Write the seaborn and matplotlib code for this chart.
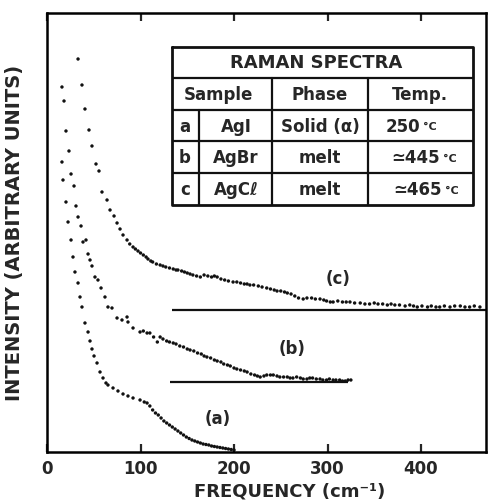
"""
Raman spectra of AgI / AgBr / AgCl - recreation of the scanned figure
"""

import pandas as pd
import matplotlib.pyplot as plt
import seaborn as sns

sns.set_style('ticks')
plt.rcParams.update({
    'font.family': ['DejaVu Sans'],
    'font.weight': 'bold',
    'axes.linewidth': 1.8,
    'axes.edgecolor': 'black',
})
INK = '#111111'

# --- data (frequency cm-1, intensity arb. units) ---
freq_a = [16.0, 17.1, 20.3, 22.5, 25.7, 27.8, 29.9, 33.2, 35.3, 37.4, 40.6, 43.9,
          46.0, 48.1, 50.3, 53.5, 56.7, 59.9, 63.1, 65.2, 70.6, 75.9, 81.3, 86.6,
          92.0, 99.5, 104, 107, 110, 113, 116, 119, 122, 125, 128, 131, 134, 137,
          140, 143, 146, 149, 152, 155, 158, 161, 164, 167, 170, 173, 176, 179,
          182, 185, 188, 191, 194, 197, 200]
int_a = [290, 272, 250, 230, 212, 195, 180, 169, 155, 145, 129, 120,
         111, 103, 96, 89, 80, 74, 69, 67, 64, 61, 58, 56,
         54, 52, 50, 49, 46, 42, 39, 37, 34, 31, 29, 27, 25, 23,
         21, 19, 17, 15, 13.5, 12, 11, 10, 9, 8, 7.5, 7, 6, 5.5,
         5, 4.5, 4, 3.5, 3, 2.5, 2]

freq_b = [16.0, 18.2, 20.3, 23.5, 25.7, 28.9, 31.0, 33.2, 36.4, 38.5, 41.7, 43.9,
          46.0, 48.1, 51.3, 54.5, 57.8, 62.0, 65.2, 69.5, 74.9, 80.2, 85.6, 86.6,
          92.0, 99.5, 103, 107, 110, 114, 118, 121, 124, 128, 131, 135, 138, 142,
          146, 150, 153, 157, 161, 165, 168, 171, 175, 179, 182, 186, 189, 193,
          196, 200, 203, 207, 211, 214, 218, 222, 225, 228, 232, 235, 239, 242,
          246, 249, 253, 257, 260, 263, 267, 271, 274, 278, 281, 284, 288, 292,
          295, 299, 302, 306, 309, 313, 316, 319, 322, 325]
int_b = [365, 351, 321, 301, 278, 266, 246, 235, 226, 210, 212, 198,
         192, 186, 175, 172, 164, 155, 145, 144, 134, 132, 135, 130,
         124, 120, 121, 119, 119, 115, 110, 115, 113, 111, 110, 109, 108, 106,
         105, 103, 102, 101, 99, 98, 96, 95, 94, 92, 91, 90, 88, 87,
         86, 84, 83, 82, 81, 80, 78, 77, 76, 75, 76, 77, 77, 77,
         76, 75, 75, 75, 74, 74, 75, 74, 73, 73, 74, 74, 73, 73,
         72, 72, 73, 72, 72, 72, 71, 71, 72, 72]

freq_c = [33.2, 37.4, 40.6, 44.9, 48.1, 52.4, 55.6, 58.8, 64.2, 67.4, 71.7, 74.9,
          78.1, 81.3, 85.6, 88.5, 92.0, 94.5, 97.3, 100, 103, 106, 108, 111, 113,
          117, 121, 124, 127, 131, 135, 138, 140, 144, 147, 150, 153, 156, 160,
          164, 168, 172, 176, 179, 182, 186, 190, 194, 199, 203, 207, 211, 214,
          217, 221, 226, 230, 235, 239, 243, 246, 250, 254, 257, 261, 265, 269,
          274, 278, 283, 287, 292, 296, 299, 303, 306, 311, 316, 320, 324, 329,
          335, 340, 345, 350, 354, 359, 364, 368, 372, 377, 383, 388, 392, 396,
          401, 407, 411, 416, 420, 425, 431, 436, 442, 447, 452, 457, 463]
int_c = [393, 367, 343, 322, 306, 288, 281, 260, 252, 242, 236, 229,
         223, 217, 212, 208, 205, 203, 201, 199, 197, 195, 193, 191, 190,
         188, 187, 186, 185, 184, 183, 182, 182, 181, 180, 179, 178, 177, 176,
         175, 177, 176, 175, 176, 175, 173, 172, 171, 170, 170, 169, 168, 168,
         167, 167, 166, 165, 164, 163, 162, 161, 161, 160, 159, 158, 156, 154,
         153, 154, 154, 153, 153, 152, 151, 150, 150, 151, 150, 150, 150, 149,
         149, 148, 148, 149, 148, 148, 147, 148, 147, 147, 146, 147, 146, 145,
         146, 145, 146, 145, 145, 146, 145, 146, 146, 145, 145, 146, 145]

# zero lines of the offset spectra b and c
base_level = [70, 142]
base_start = [131.6, 134]
base_end = [322, 470]

curve_labels = ['(a)', '(b)', '(c)']
label_x = [183, 262, 311]
label_y = [24, 94, 164]

table_title = 'RAMAN SPECTRA'
table_head = ['Sample', 'Phase', 'Temp.']
row_id = ['a', 'b', 'c']
row_sample = ['AgI', 'AgBr', 'AgCℓ']
row_phase = ['Solid (α)', 'melt', 'melt']
row_temp = ['250', '≃445', '≃465']

df = pd.concat([
    pd.DataFrame({'freq': freq_a, 'intensity': int_a, 'sample': 'a'}),
    pd.DataFrame({'freq': freq_b, 'intensity': int_b, 'sample': 'b'}),
    pd.DataFrame({'freq': freq_c, 'intensity': int_c, 'sample': 'c'}),
])

W, H = 488, 504
fig = plt.figure(figsize=(W / 100, H / 100), dpi=100)
ax = fig.add_axes([47 / W, 1 - 452 / H, (486 - 47) / W, (452 - 13) / H])

sns.scatterplot(data=df, x='freq', y='intensity', hue='sample',
                palette=[INK, INK, INK], s=6, linewidth=0, legend=False, ax=ax)
ax.hlines(base_level, base_start, base_end, color=INK, lw=1.6)

for lab, x, y in zip(curve_labels, label_x, label_y):
    ax.text(x, y, lab, ha='center', va='bottom', fontsize=12, fontweight='bold')

ax.set_xlim(0, 469.5)
ax.set_ylim(0, 439)
ax.set_xticks([0, 100, 200, 300, 400])
ax.set_yticks([])
ax.tick_params(axis='x', direction='in', length=6, width=1.6, top=True,
               labeltop=False, labelsize=12, pad=6)
for s in ['top', 'right', 'left', 'bottom']:
    ax.spines[s].set_visible(True)
ax.set_xlabel('FREQUENCY (cm⁻¹)', fontsize=13, fontweight='bold')
ax.xaxis.set_label_coords(0.553, -0.07)
ax.set_ylabel('INTENSITY (ARBITRARY UNITS)', fontsize=14, fontweight='bold')
ax.yaxis.set_label_coords(-0.052, 0.5)

# table drawn in its own pixel-based box
tx0, tx1, ty0, ty1 = 172, 473, 47, 205
tax = fig.add_axes([tx0 / W, 1 - ty1 / H, (tx1 - tx0) / W, (ty1 - ty0) / H])
tax.set_xlim(tx0, tx1)
tax.set_ylim(ty1, ty0)
tax.axis('off')
tax.plot([tx0, tx1, tx1, tx0, tx0], [ty0, ty0, ty1, ty1, ty0], color=INK, lw=2,
         clip_on=False)
rows = [47, 78, 110, 141, 173, 205]
for y in rows[1:-1]:
    tax.plot([tx0, tx1], [y, y], color=INK, lw=1.6)
for x in [272, 368]:
    tax.plot([x, x], [78, ty1], color=INK, lw=1.6)
tax.plot([199, 199], [110, ty1], color=INK, lw=1.6)

tax.text(316, 63, table_title, ha='center', va='center', fontsize=13)
for txt, x in zip(table_head, [218, 320, 420]):
    tax.text(x, 95, txt, ha='center', va='center', fontsize=12)

num_right = [420, 440, 442]
for i in range(3):
    yc = (rows[i + 2] + rows[i + 3]) / 2 + 1
    tax.text(185, yc, row_id[i], ha='center', va='center', fontsize=12)
    tax.text(236, yc, row_sample[i], ha='center', va='center', fontsize=12)
    tax.text(320, yc, row_phase[i], ha='center', va='center', fontsize=12)
    tax.text(num_right[i], yc, row_temp[i], ha='right', va='center', fontsize=12)
    tax.text(num_right[i] + 3, yc + 1, '°C', ha='left', va='center', fontsize=8)

fig.savefig('out.png', dpi=100)
plt.close()
